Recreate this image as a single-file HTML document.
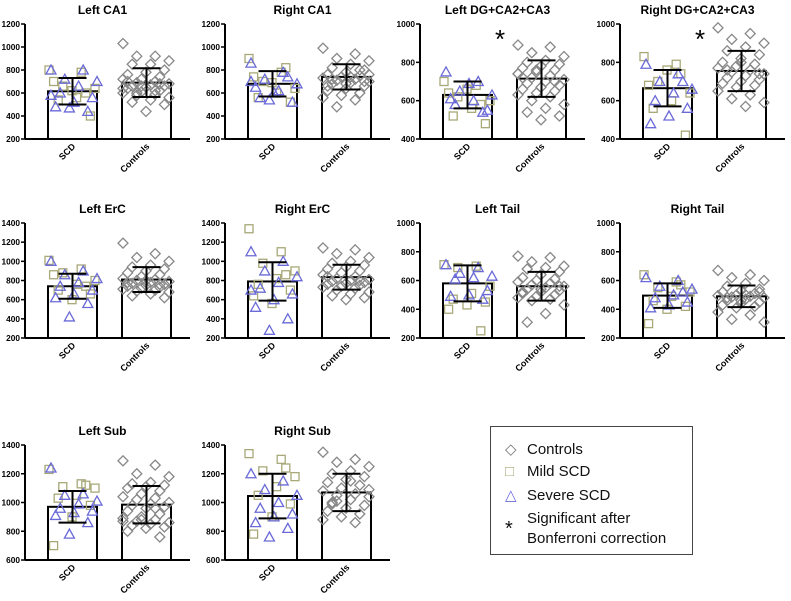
<!DOCTYPE html>
<html><head><meta charset="utf-8"><style>
body{margin:0;background:#fff;width:791px;height:596px;overflow:hidden}
svg{font-family:"Liberation Sans",sans-serif}
</style></head><body>
<svg id="c" width="791" height="596"></svg>
<div style="position:absolute;left:490px;top:426px;width:203px;height:129px;border:1px solid #444;font-family:'Liberation Sans',sans-serif;font-size:15px;color:#111;box-sizing:border-box">
<div style="position:absolute;left:14px;top:13px"><span style="color:#777;display:inline-block;width:22px">◇</span>Controls</div>
<div style="position:absolute;left:14px;top:36px"><span style="color:#a8a878;display:inline-block;width:22px">□</span>Mild SCD</div>
<div style="position:absolute;left:14px;top:59px"><span style="color:#6a6ad8;display:inline-block;width:22px">△</span>Severe SCD</div>
<div style="position:absolute;left:14px;top:82px;line-height:20px"><span style="position:absolute;left:0;top:10px;font-size:20px">*</span><div style="margin-left:22px">Significant after<br>Bonferroni correction</div></div>
</div>
<script>
const titles=["Left CA1","Right CA1","Left DG+CA2+CA3","Right DG+CA2+CA3","Left ErC","Right ErC","Left Tail","Right Tail","Left Sub","Right Sub"];
const yMins=[200,200,400,400,200,200,200,200,600,600];
const yMaxs=[1200,1200,1000,1000,1400,1400,1000,1000,1400,1400];
const yTicks=[[200,400,600,800,1000,1200],[200,400,600,800,1000,1200],[400,600,800,1000],[400,600,800,1000],[200,400,600,800,1000,1200,1400],[200,400,600,800,1000,1200,1400],[200,400,600,800,1000],[200,400,600,800,1000],[600,800,1000,1200,1400],[600,800,1000,1200,1400]];
const scdMeans=[615,680,630,665,740,790,580,495,970,1045];
const scdSDs=[115,110,70,95,130,200,125,85,110,155];
const ctrlMeans=[690,740,715,755,810,835,560,490,985,1070];
const ctrlSDs=[125,110,95,105,130,130,100,75,130,130];
const stars=[0,0,1,1,0,0,0,0,0,0];
const mild=[[800,780,660,640,560,540,400,620,700,600],[900,780,700,640,600,560,520,690,740,820],[700,680,620,600,560,520,480,660,640,580],[830,790,700,640,600,560,420,760,680,740],[1010,920,880,800,760,700,660,600,860,740],[1340,1100,980,900,820,760,700,560,640,860],[710,700,690,560,510,470,450,430,400,250],[640,590,550,520,490,460,420,400,300,570],[1230,1130,1110,1100,1050,1030,980,900,700,1120],[1340,1300,1220,1180,1110,1050,990,900,780,1240]];
const severe=[[800,800,720,700,660,600,560,520,480,440,470,580],[860,780,720,680,620,560,520,600,650,740,540,700],[750,700,650,630,600,580,550,690,610,540],[790,740,700,660,640,600,560,520,480,700],[1000,900,860,820,780,740,700,660,620,560,420],[1100,1000,900,840,780,720,660,600,520,400,280,700],[710,690,650,630,620,610,530,500,490,470],[620,600,560,540,500,480,450,430,410,520],[1240,1060,1050,1010,990,960,940,930,910,860,780],[1200,1150,1090,1050,1000,960,920,900,860,820,760]];
const ctrl=[[1030,920,920,880,850,850,800,780,760,740,720,720,700,690,680,670,660,660,650,640,620,610,600,590,580,560,540,520,500,440,700,680,660,640,620,600],[990,940,900,880,850,820,800,780,760,750,740,730,720,710,700,690,680,660,640,620,600,580,560,540,480,760,740,720,700,680,660,800],[890,880,850,830,810,800,790,780,770,760,750,740,730,720,710,700,690,680,670,660,650,640,630,620,600,580,560,540,520,500,720,700,760,740],[980,950,920,900,880,860,840,820,800,790,780,770,760,750,740,730,720,710,700,690,680,670,650,630,610,590,570,760,740,800],[1190,1080,1040,1000,960,940,920,900,880,860,840,820,810,800,790,780,770,760,750,740,730,720,710,700,690,680,660,640,620,800,780,760],[1140,1120,1080,1040,1000,980,960,940,920,900,880,860,840,820,810,800,790,780,770,760,750,740,730,720,700,680,660,640,620,600,840,800],[770,760,730,700,690,680,660,640,620,610,600,590,580,570,560,550,540,530,520,510,500,490,480,470,460,430,370,310,560,540,520],[670,640,620,600,580,560,540,530,520,510,500,495,490,485,480,470,460,450,440,430,420,410,380,360,330,310,500,480,520,460],[1290,1260,1200,1180,1140,1130,1120,1110,1100,1080,1060,1040,1030,1020,1000,990,980,970,960,940,920,900,890,880,870,860,850,840,830,820,800,760,880,870,960],[1350,1300,1280,1250,1220,1200,1180,1160,1140,1120,1100,1080,1060,1050,1040,1020,1000,980,960,940,920,900,880,860,1010,1090,1150,990]];

const svg=document.getElementById('c');
const NS='http://www.w3.org/2000/svg';
function mk(t,a,p){const e=document.createElementNS(NS,t);for(const k in a)e.setAttribute(k,a[k]);(p||svg).appendChild(e);return e;}
const colX=[25,225,420,620];
const rowTop=[24,223,445];
const H=115, W=165;
const mildCol='#a8a878', sevCol='#6a6ad8', ctrlCol='#888';
for(let i=0;i<10;i++){
  const r=Math.floor(i/4), c=i%4;
  const ax=colX[c], top=rowTop[r], bot=top+H;
  const g=mk('g',{});
  
  
  const y=v=>bot-(v-yMins[i])/(yMaxs[i]-yMins[i])*H;
  const t=mk('text',{x:ax+W/2-5,y:top-10,'text-anchor':'middle','font-size':12,'font-weight':'bold'},g);t.textContent=titles[i];
  
  
  yTicks[i].forEach(v=>{
    mk('line',{x1:ax-4,x2:ax,y1:y(v),y2:y(v),stroke:'#000','stroke-width':1.5},g);
    const tl=mk('text',{x:ax-5,y:y(v)+3,'text-anchor':'end','font-size':8.3,'font-weight':'bold'},g);tl.textContent=v;
    
    
  });
  const bars=[[ax+23,scdMeans[i],scdSDs[i],'SCD'],[ax+97,ctrlMeans[i],ctrlSDs[i],'Controls']];
  bars.forEach(([bx,m,sd,lab])=>{
    const b=mk('rect',{x:bx,y:y(m),width:49,height:bot-y(m),fill:'#fff',stroke:'#000','stroke-width':2},g);
    
    
    const lt=mk('text',{transform:`translate(${bx+28},${bot+8}) rotate(-45)`,'text-anchor':'end','font-size':9,'font-weight':'bold'},g);lt.textContent=lab;
    
    
  });
  const drawPts=(arr,cx,kind,col)=>{
    arr.forEach((v,k)=>{
      const off=((k*7)%11-5)*4.6;
      const px=cx+off, py=y(v);
      let e;
      if(kind==='sq') e=mk('rect',{x:px-4,y:py-4,width:8,height:8,fill:'none',stroke:col,'stroke-width':1.3},g);
      else if(kind==='tri') e=mk('polygon',{points:`${px},${py-5} ${px+5},${py+4} ${px-5},${py+4}`,fill:'none',stroke:col,'stroke-width':1.3},g);
      else e=mk('polygon',{points:`${px},${py-5} ${px+5},${py} ${px},${py+5} ${px-5},${py}`,fill:'none',stroke:col,'stroke-width':1.3},g);
      
      
    });
  };
  drawPts(mild[i],ax+47,'sq',mildCol);
  drawPts(severe[i],ax+49,'tri',sevCol);
  drawPts(ctrl[i],ax+121,'dia',ctrlCol);
  bars.forEach(([bx,m,sd])=>{
    const cx=bx+24.5;
    mk('line',{x1:cx,x2:cx,y1:y(m+sd),y2:y(m-sd),stroke:'#000','stroke-width':2},g);
    mk('line',{x1:cx-14,x2:cx+14,y1:y(m+sd),y2:y(m+sd),stroke:'#000','stroke-width':2},g);
    mk('line',{x1:cx-14,x2:cx+14,y1:y(m-sd),y2:y(m-sd),stroke:'#000','stroke-width':2},g);
  });
  mk('line',{x1:ax,x2:ax,y1:top,y2:bot,stroke:'#000','stroke-width':2},g);
  mk('line',{x1:ax,x2:ax+W,y1:bot,y2:bot,stroke:'#000','stroke-width':2},g);
  if(stars[i]){const s=mk('text',{x:ax+80,y:top+24,'text-anchor':'middle','font-size':26},g);s.textContent='*';
    
    }
}
</script>
</body></html>
